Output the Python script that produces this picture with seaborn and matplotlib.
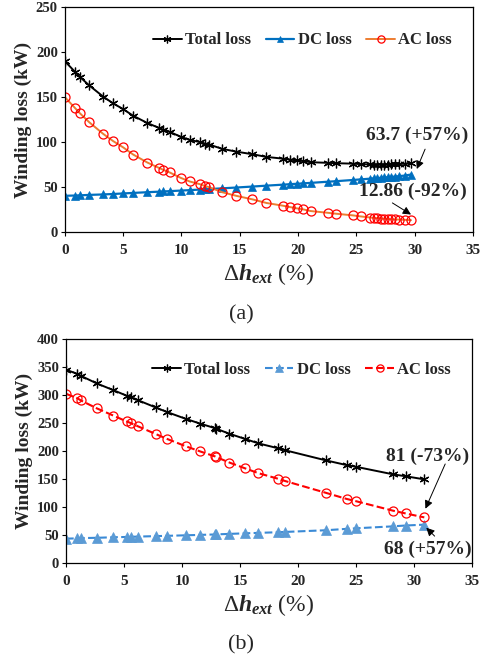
import numpy as np
import matplotlib
matplotlib.use("Agg")
import matplotlib.pyplot as plt
import seaborn as sns

# ---- panel (a) data ----
xa = [0, 0.86, 1.29, 2.09, 3.29, 4.14, 5.0, 5.86, 7.09, 8.09, 8.43, 9.0, 9.94, 10.7,
      11.57, 12.0, 12.4, 13.5, 14.7, 16.1, 17.3, 18.7, 19.3, 19.9, 20.4, 21.1, 22.6,
      23.3, 24.7, 25.4, 26.2, 26.5, 26.8, 27.1, 27.4, 27.7, 28.0, 28.3, 28.7, 29.2, 29.7]
total_a = [190, 178.3, 172.5, 163, 150.5, 143, 136.6, 129.2, 121, 115.6, 113.8, 111.2,
           105.8, 102.3, 99.9, 98.2, 97, 92.3, 89.2, 86.3, 83.3, 81.4, 80.4, 79.4, 78.8,
           77.4, 76.7, 76.3, 75.8, 75.3, 74.9, 74.8, 74.7, 74.8, 74.8, 74.8, 75.0, 75.1,
           75.4, 75.8, 76.56]
dc_a = [40, 40.3, 40.5, 41, 41.5, 42, 42.6, 43.2, 44, 44.6, 44.8, 45.2, 45.8, 46.3, 46.9,
        47.2, 47.5, 48.3, 49.2, 50.3, 51.3, 52.4, 52.9, 53.4, 53.8, 54.4, 55.7, 56.3, 57.6,
        58.3, 59.1, 59.4, 59.7, 60.1, 60.4, 60.7, 61.1, 61.4, 61.9, 62.6, 63.7]
ac_a = [150, 138, 132, 122, 109, 101, 94, 86, 77, 71, 69, 66, 60, 56, 53, 51, 49.5, 44,
        40, 36, 32, 29, 27.5, 26, 25, 23, 21, 20, 18.2, 17, 15.8, 15.4, 15.0, 14.7, 14.4,
        14.1, 13.9, 13.7, 13.5, 13.2, 12.86]

# ---- panel (b) data ----
xb = [0, 0.98, 1.29, 2.65, 4.08, 5.23, 5.6, 6.24, 7.74, 8.69, 10.35, 11.56, 12.85, 12.94,
      14.1, 15.4, 16.6, 18.3, 18.9, 22.4, 24.2, 25.0, 28.2, 29.3, 30.9]
total_b = [345, 337.5, 334, 320.5, 308.5, 298.5, 295.8, 290.2, 277.5, 269.5, 257, 248.7,
           240.5, 239.6, 230.5, 221.5, 213.3, 204.5, 201, 183, 174.5, 171.5, 158, 154.5, 149]
dc_b = [43, 43.5, 44, 44.5, 45.5, 46, 46.3, 46.7, 47.5, 48, 49, 49.7, 50.5, 50.6, 51.5,
        52.5, 53.3, 54.5, 55, 58, 60.5, 61.5, 65, 66.5, 68]
ac_b = [302, 294, 290, 276, 263, 252.5, 249.5, 243.5, 230, 221.5, 208, 199, 190, 189,
        179, 169, 160, 150, 146, 125, 114, 110, 93, 88, 81]

sns.set_style("ticks")
plt.rcParams['font.family'] = ['Liberation Serif', 'DejaVu Serif']
plt.rcParams['mathtext.fontset'] = 'custom'
plt.rcParams['mathtext.rm'] = 'Liberation Serif'
plt.rcParams['mathtext.it'] = 'Liberation Serif:italic:bold'
plt.rcParams['mathtext.bf'] = 'Liberation Serif:bold'

star = (6, 2, 0)

fig = plt.figure(figsize=(4.8, 6.62), dpi=100)
ax1 = fig.add_axes([0.135, 0.650, 0.850, 0.339])
ax2 = fig.add_axes([0.1375, 0.150, 0.8455, 0.338])


def style_axes(ax, ymax, ystep):
    ax.set_xlim(0, 35)
    ax.set_ylim(0, ymax)
    ax.set_xticks(range(0, 36, 5))
    ax.set_yticks(range(0, ymax + 1, ystep))
    for s in ax.spines.values():
        s.set_visible(True)
        s.set_color('black')
        s.set_linewidth(0.9)
    ax.tick_params(axis='both', direction='out', length=3, width=0.8, color='black', pad=2)
    ax.tick_params(axis='x', labelsize=11, pad=6)
    ax.tick_params(axis='y', labelsize=10.5)
    for lab in ax.get_xticklabels() + ax.get_yticklabels():
        lab.set_fontweight('bold')
    ax.set_ylabel('Winding loss (kW)', fontsize=14, fontweight='bold', labelpad=3)
    ax.set_xlabel(r'$\Delta h_{ext}$ (%)', fontsize=17, labelpad=3)


def add_legend(ax, y):
    ax.legend(loc='upper right', bbox_to_anchor=(0.985, y), ncol=3, frameon=False,
              prop={'weight': 'bold', 'size': 12}, handlelength=1.7,
              handletextpad=0.2, columnspacing=0.9, markerscale=0.8)


# ---- panel (a) ----
sns.lineplot(x=xa, y=total_a, ax=ax1, color='black', linewidth=1.4, marker=star,
             markersize=7, markeredgecolor='black', markeredgewidth=0.9,
             label='Total loss', sort=False)
sns.lineplot(x=xa, y=dc_a, ax=ax1, color='#0070C0', linewidth=1.6, marker='^',
             markersize=6, markeredgecolor='#0070C0', markeredgewidth=0.5,
             label='DC loss', sort=False)
sns.lineplot(x=xa, y=ac_a, ax=ax1, color='#ED7D31', linewidth=1.4, marker='o',
             markersize=6.5, markerfacecolor='none', markeredgecolor='red',
             markeredgewidth=0.9, label='AC loss', sort=False)
style_axes(ax1, 250, 50)
add_legend(ax1, 0.955)

arrow = dict(arrowstyle='-|>', color='black', lw=0.7, mutation_scale=12)
ax1.text(30.2, 107.7, '63.7 (+57%)', ha='center', va='center', fontsize=14,
         fontweight='bold')
ax1.annotate('', xy=(30.1, 67), xytext=(31.0, 94.8), arrowprops=arrow)
ax1.text(29.9, 44.8, '12.86 (-92%)', ha='center', va='center', fontsize=14,
         fontweight='bold')
ax1.annotate('', xy=(29.9, 17.5), xytext=(27.9, 33.7), arrowprops=arrow)

# ---- panel (b) ----
sns.lineplot(x=xb, y=total_b, ax=ax2, color='black', linewidth=1.4, marker=star,
             markersize=7, markeredgecolor='black', markeredgewidth=0.9,
             label='Total loss', sort=False)
sns.lineplot(x=xb, y=dc_b, ax=ax2, color='#3A8AD6', linewidth=1.5, linestyle='--',
             marker='^', markersize=6.5, markeredgecolor='#5B9BD5',
             markerfacecolor='#5B9BD5', markeredgewidth=0.5,
             label='DC loss', sort=False)
sns.lineplot(x=xb, y=ac_b, ax=ax2, color='red', linewidth=1.5, linestyle='--',
             marker='o', markersize=6.5, markerfacecolor='none', markeredgecolor='red',
             markeredgewidth=0.9, label='AC loss', sort=False)
style_axes(ax2, 400, 50)
add_legend(ax2, 0.965)

ax2.text(31.2, 190, '81 (-73%)', ha='center', va='center', fontsize=14,
         fontweight='bold')
ax2.annotate('', xy=(30.9, 92), xytext=(32.8, 181), arrowprops=arrow)
ax2.text(31.2, 23, '68 (+57%)', ha='center', va='center', fontsize=14,
         fontweight='bold')
ax2.annotate('', xy=(30.9, 66), xytext=(31.96, 44), arrowprops=arrow)

fig.text(0.502, 1 - 315 / 662, '(a)', ha='center', va='center', fontsize=16)
fig.text(0.502, 1 - 645 / 662, '(b)', ha='center', va='center', fontsize=16)

fig.savefig('out.png', dpi=100)
